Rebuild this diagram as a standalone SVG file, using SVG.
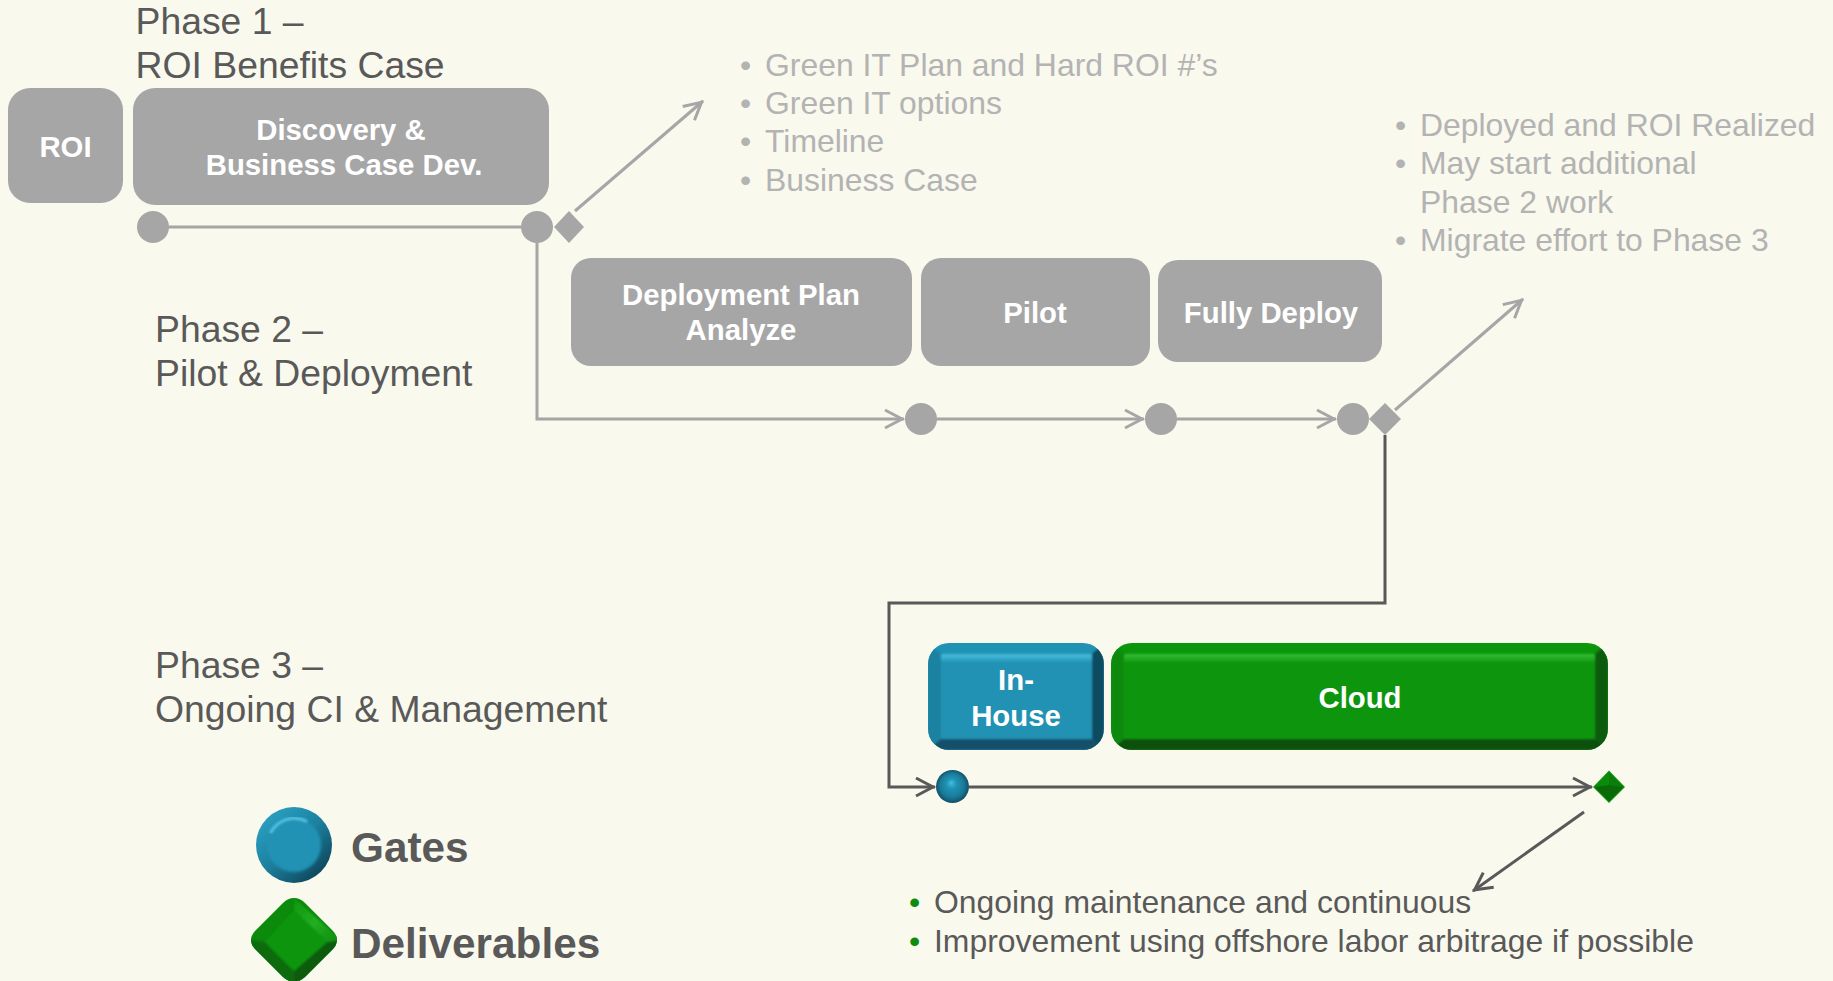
<svg xmlns="http://www.w3.org/2000/svg" width="1833" height="981" viewBox="0 0 1833 981">
<style>
text{font-family:"Liberation Sans",Arial,sans-serif}
.ph{font-size:37.33px;fill:#595959}
.bl{font-size:31.9px;fill:#b3b3b3}
.bk{font-size:31.9px;fill:#595959}
.dot{fill:#0e8c0e}
.nt{font-size:29.33px;font-weight:bold;fill:#fff;text-anchor:middle}
.box{fill:#a6a6a6}
.g{fill:#a6a6a6}
.c1{fill:none;stroke:#a6a6a6;stroke-width:3}
.c2{fill:none;stroke:#595959;stroke-width:3}
.lg{font-size:42.3px;font-weight:bold;fill:#595959}
</style>
<defs>
<marker id="ag" markerUnits="userSpaceOnUse" markerWidth="26" markerHeight="24" refX="22" refY="12" orient="auto"><path d="M3 3L20 12L3 21" fill="none" stroke="#a6a6a6" stroke-width="3"/></marker>
<marker id="ad" markerUnits="userSpaceOnUse" markerWidth="26" markerHeight="24" refX="22" refY="12" orient="auto"><path d="M3 3L20 12L3 21" fill="none" stroke="#595959" stroke-width="3"/></marker>
<radialGradient id="ball" cx="50%" cy="50%" r="52%" fx="46%" fy="38%"><stop offset="0" stop-color="#3fc0de"/><stop offset=".3" stop-color="#2092b4"/><stop offset=".7" stop-color="#1a7a98"/><stop offset="1" stop-color="#0f4a60"/></radialGradient>
<linearGradient id="ring" x1=".15" y1=".1" x2=".85" y2=".9"><stop offset="0" stop-color="#2a9fc0"/><stop offset=".5" stop-color="#1c7f9e"/><stop offset="1" stop-color="#0e465b"/></linearGradient>
<linearGradient id="hlb" x1="0" y1="0" x2="0" y2="1"><stop offset="0" stop-color="#4bbfe0"/><stop offset="1" stop-color="#2092b4"/></linearGradient>
<linearGradient id="hlg" x1="0" y1="0" x2="0" y2="1"><stop offset="0" stop-color="#38bf38"/><stop offset="1" stop-color="#0e960e"/></linearGradient>
<linearGradient id="facet" x1="0" y1="0" x2="1" y2="1"><stop offset="0" stop-color="#0e960e"/><stop offset=".5" stop-color="#22ae22"/><stop offset="1" stop-color="#0e8a0e"/></linearGradient>
<filter id="soft" x="-10%" y="-10%" width="120%" height="120%"><feGaussianBlur stdDeviation="1"/></filter>
<filter id="soft2" x="-20%" y="-20%" width="140%" height="140%"><feGaussianBlur stdDeviation="1.500"/></filter>
<clipPath id="cb"><rect x="928" y="643" width="176" height="107" rx="21"/></clipPath>
<clipPath id="cg"><rect x="1111" y="643" width="497" height="107" rx="21"/></clipPath>
<clipPath id="cd"><path d="M294 898Q300 898 305 903L333 931Q341 940 333 949L305 977Q294 987 283 977L255 949Q247 940 255 931L283 903Q288 898 294 898Z"/></clipPath>
</defs>
<rect width="1833" height="981" fill="#f9f9ee"/>

<g id="connectors">
<path class="c1" d="M169 227H521"/>
<path class="c1" d="M537 243V419H904" marker-end="url(#ag)"/>
<path class="c1" d="M937 419H1144" marker-end="url(#ag)"/>
<path class="c1" d="M1177 419H1336" marker-end="url(#ag)"/>
<path class="c1" d="M575 211L703 101" marker-end="url(#ag)"/>
<path class="c1" d="M1395 410L1523 299" marker-end="url(#ag)"/>
<path class="c2" d="M1385 435V603H889V787H935" marker-end="url(#ad)"/>
<path class="c2" d="M969 787H1592" marker-end="url(#ad)"/>
<path class="c2" d="M1584 812L1473 891" marker-end="url(#ad)"/>
</g>

<g id="roi"><rect class="box" x="8" y="88" width="115" height="115" rx="22"/><text class="nt" x="65.500" y="157">ROI</text></g>
<g id="discovery"><rect class="box" x="133" y="88" width="416" height="117" rx="22"/><text class="nt" x="341" y="140">Discovery &amp;</text><text class="nt" x="344" y="175">Business Case Dev.</text></g>
<g id="deployment-plan"><rect class="box" x="571" y="258" width="341" height="108" rx="20"/><text class="nt" x="741" y="305">Deployment Plan</text><text class="nt" x="741" y="340">Analyze</text></g>
<g id="pilot"><rect class="box" x="921" y="258" width="229" height="108" rx="20"/><text class="nt" x="1035" y="323">Pilot</text></g>
<g id="fully-deploy"><rect class="box" x="1158" y="260" width="224" height="102" rx="20"/><text class="nt" x="1271" y="322.500">Fully Deploy</text></g>

<g id="in-house">
<g clip-path="url(#cb)">
<rect x="928" y="643" width="176" height="107" fill="#2092b4"/>
<g filter="url(#soft)">
<path d="M928 643L941 654V739L928 750Z" fill="#1d82a1"/>
<path d="M1104 643L1092 654V739L1104 750Z" fill="#0e4c61"/>
<path d="M928 750L941 739H1092L1104 750Z" fill="#13506a"/>
<rect x="941" y="654" width="151" height="85" rx="3" fill="#2092b4"/>
<rect x="941" y="654" width="151" height="9" rx="2" fill="url(#hlb)"/>
</g>
</g>
<text class="nt" x="1016" y="690">In-</text><text class="nt" x="1016" y="726">House</text>
</g>
<g id="cloud">
<g clip-path="url(#cg)">
<rect x="1111" y="643" width="497" height="107" fill="#0b960b"/>
<g filter="url(#soft)">
<path d="M1111 643L1124 654V739L1111 750Z" fill="#0a8a0a"/>
<path d="M1608 643L1595 654V739L1608 750Z" fill="#0a5c0a"/>
<path d="M1111 750L1124 739H1595L1608 750Z" fill="#0b4f0b"/>
<rect x="1124" y="654" width="471" height="85" rx="3" fill="#0e960e"/>
<rect x="1124" y="654" width="471" height="9" rx="2" fill="url(#hlg)"/>
</g>
</g>
<text class="nt" x="1360" y="708">Cloud</text>
</g>

<g id="g1"><circle class="g" cx="153" cy="227" r="16"/></g>
<g id="g2"><circle class="g" cx="537" cy="227" r="16"/></g>
<g id="d1"><path class="g" d="M569 211L584 227L569 243L554 227Z"/></g>
<g id="g3"><circle class="g" cx="921" cy="419" r="16"/></g>
<g id="g4"><circle class="g" cx="1161" cy="419" r="16"/></g>
<g id="g5"><circle class="g" cx="1353" cy="419" r="16"/></g>
<g id="d2"><path class="g" d="M1385 403L1401 419L1385 435L1369 419Z"/></g>
<g id="g6"><circle cx="952.500" cy="786.500" r="16.500" fill="url(#ball)"/></g>
<g id="d3">
<path d="M1609 770.500L1625 787L1609 803L1593 787Z" fill="#0e960e"/>
<path d="M1609 772L1609 785L1594.500 787Z" fill="#0c8a0c"/>
<path d="M1609 772L1609 785L1623.500 787Z" fill="#0b7d0b"/>
<path d="M1609 785L1623.500 787L1609 801.500L1594.500 787Z" fill="#0a6a0a"/>
</g>

<g id="labels">
<text class="ph" x="135.500" y="33.500">Phase 1 –</text>
<text class="ph" x="135.500" y="78">ROI Benefits Case</text>
<text class="ph" x="155" y="342">Phase 2 –</text>
<text class="ph" x="155" y="386">Pilot &amp; Deployment</text>
<text class="ph" x="155" y="678">Phase 3 –</text>
<text class="ph" x="155" y="722">Ongoing CI &amp; Management</text>
<g class="bl">
<text x="740" y="76">•</text><text x="765" y="76">Green IT Plan and Hard ROI #’s</text>
<text x="740" y="114">•</text><text x="765" y="114">Green IT options</text>
<text x="740" y="152">•</text><text x="765" y="152">Timeline</text>
<text x="740" y="191">•</text><text x="765" y="191">Business Case</text>
<text x="1395" y="136">•</text><text x="1420" y="136">Deployed and ROI Realized</text>
<text x="1395" y="174">•</text><text x="1420" y="174">May start additional</text>
<text x="1420" y="213">Phase 2 work</text>
<text x="1395" y="251">•</text><text x="1420" y="251">Migrate effort to Phase 3</text>
</g>
<text class="dot" font-size="32" x="909" y="913">•</text><text class="bk" x="934" y="913">Ongoing maintenance and continuous</text>
<text class="dot" font-size="32" x="909" y="952">•</text><text class="bk" x="934" y="952">Improvement using offshore labor arbitrage if possible</text>
</g>

<g id="legend-gate">
<circle cx="294" cy="845" r="38" fill="url(#ring)"/>
<circle cx="294" cy="845" r="27" fill="#2092b4" filter="url(#soft2)"/>
<path d="M271 832A27 27 0 0 1 306 821" fill="none" stroke="#55c4e4" stroke-width="3" stroke-linecap="round" filter="url(#soft)"/>
<text class="lg" x="351" y="862">Gates</text>
</g>
<g id="legend-deliverable">
<g clip-path="url(#cd)">
<rect x="245" y="890" width="100" height="91" fill="#0b8a0b"/>
<g filter="url(#soft)">
<path d="M247 940L265 942L294 971V990H240Z" fill="#0a6a0a"/>
<path d="M341 940L327 942L294 971V990H345Z" fill="#0a5c0a"/>
<path d="M294 898L294 910L327 942L341 940Z" fill="url(#facet)"/>
<path d="M294 910L327 942L294 971L265 942Z" fill="#0e960e"/>
</g>
</g>
<text class="lg" x="351" y="958">Deliverables</text>
</g>
</svg>
